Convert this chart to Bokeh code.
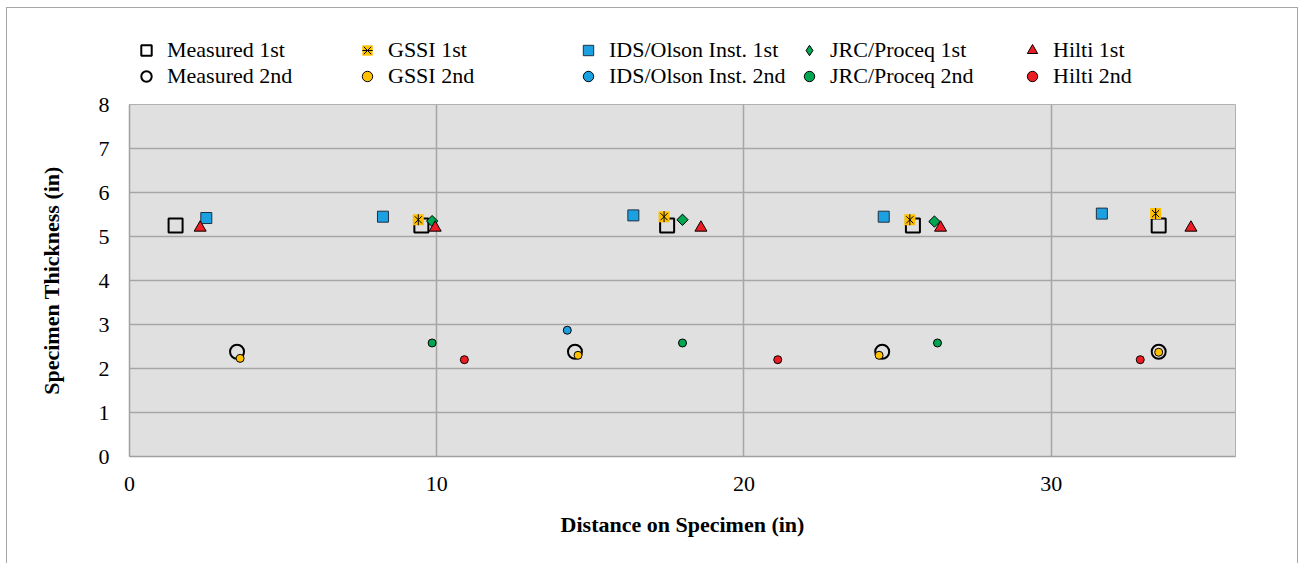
import numpy as np
from bokeh.plotting import figure
from bokeh.layouts import column
from bokeh.models import Legend, LegendItem, Range1d, FixedTicker
from bokeh.embed import file_html
from bokeh.resources import INLINE

# ---- data ----
meas1_x = [1.5, 9.5, 17.5, 25.5, 33.5]
meas1_y = [5.25, 5.25, 5.25, 5.25, 5.25]
meas2_x = [3.5, 14.5, 24.5, 33.5]
meas2_y = [2.38, 2.38, 2.38, 2.38]
gssi1_x = [9.4, 17.4, 25.4, 33.4]
gssi1_y = [5.38, 5.45, 5.38, 5.52]
gssi2_x = [3.6, 14.6, 24.4, 33.5]
gssi2_y = [2.23, 2.30, 2.30, 2.37]
ids1_x = [2.5, 8.25, 16.4, 24.55, 31.65]
ids1_y = [5.42, 5.45, 5.48, 5.45, 5.52]
ids2_x = [14.25]
ids2_y = [2.87]
jrc1_x = [9.85, 18.0, 26.2]
jrc1_y = [5.35, 5.38, 5.34]
jrc2_x = [9.85, 18.0, 26.3]
jrc2_y = [2.58, 2.58, 2.58]
hilti1_x = [2.3, 9.95, 18.6, 26.4, 34.55]
hilti1_y = [5.2, 5.2, 5.2, 5.2, 5.2]
hilti2_x = [10.9, 21.1, 32.9]
hilti2_y = [2.2, 2.2, 2.2]

x_ticks = [0, 10, 20, 30]
y_ticks = [0, 1, 2, 3, 4, 5, 6, 7, 8]

ORANGE = "#FFC000"
BLUE = "#1BA1E2"
GREEN = "#00A651"
RED = "#ED1C24"
FONT = "Liberation Serif"

# series: key -> (x, y, style)
series = {
    "m1": (meas1_x, meas1_y, dict(marker="square", size=14, fill_alpha=0, line_color="black", line_width=2)),
    "m2": (meas2_x, meas2_y, dict(marker="circle", size=14, fill_alpha=0, line_color="black", line_width=2)),
    "i1": (ids1_x, ids1_y, dict(marker="square", size=11, fill_color=BLUE, line_color="#203040", line_width=1)),
    "i2": (ids2_x, ids2_y, dict(marker="circle", size=8, fill_color=BLUE, line_color="black", line_width=1)),
    "g1a": (gssi1_x, gssi1_y, dict(marker="square", size=11, fill_color=ORANGE, line_color=None)),
    "g1b": (gssi1_x, gssi1_y, dict(marker="x", size=10, line_color="black", line_width=1)),
    "g1c": (gssi1_x, gssi1_y, dict(marker="dash", size=11, angle=np.pi / 2, line_color="black", line_width=1)),
    "g2": (gssi2_x, gssi2_y, dict(marker="circle", size=8, fill_color=ORANGE, line_color="black", line_width=1)),
    "j1": (jrc1_x, jrc1_y, dict(marker="square", size=8, angle=np.pi / 4, fill_color=GREEN, line_color="black", line_width=1)),
    "j2": (jrc2_x, jrc2_y, dict(marker="circle", size=8, fill_color=GREEN, line_color="black", line_width=1)),
    "h1": (hilti1_x, hilti1_y, dict(marker="triangle", size=12, fill_color=RED, line_color="black", line_width=1)),
    "h2": (hilti2_x, hilti2_y, dict(marker="circle", size=8, fill_color=RED, line_color="black", line_width=1)),
}

# ---- main plot ----
p = figure(width=1290, height=471, output_backend="svg", toolbar_location=None,
           x_range=Range1d(0, 36), y_range=Range1d(0, 8),
           min_border_left=122, min_border_right=62, min_border_top=12,
           min_border_bottom=107)
p.background_fill_color = "#E0E0E0"
p.border_fill_color = "white"
p.outline_line_color = "#B0B0B0"

for ax in (p.xaxis[0], p.yaxis[0]):
    ax.major_tick_in = 0
    ax.major_tick_out = 0
    ax.minor_tick_in = 0
    ax.minor_tick_out = 0
    ax.axis_line_color = "#A0A0A0"
    ax.axis_line_width = 1.5
    ax.major_label_text_font = FONT
    ax.major_label_text_font_size = "22px"
    ax.major_label_text_color = "black"
    ax.axis_label_text_font = FONT
    ax.axis_label_text_font_size = "22px"
    ax.axis_label_text_font_style = "bold"
    ax.axis_label_text_color = "black"

p.xaxis.ticker = FixedTicker(ticks=x_ticks)
p.yaxis.ticker = FixedTicker(ticks=y_ticks)
p.xaxis.axis_label = "Distance on Specimen (in)"
p.yaxis.axis_label = "Specimen Thickness (in)"
p.xaxis.major_label_standoff = 20
p.yaxis.major_label_standoff = 20
p.xaxis.axis_label_standoff = 18
p.yaxis.axis_label_standoff = 32

p.xgrid.ticker = FixedTicker(ticks=x_ticks)
p.ygrid.ticker = FixedTicker(ticks=y_ticks)
p.grid.grid_line_color = "#A6A6A6"
p.grid.grid_line_width = 1.5

for key in ["m1", "m2", "i1", "i2", "g1a", "g1b", "g1c", "g2", "j1", "j2", "h1", "h2"]:
    xs, ys, st = series[key]
    p.scatter(xs, ys, **st)

# ---- legend strip (five columns of two rows) ----
# Same series drawn here only to provide legend glyphs; all fall outside this
# strip's (0..1) ranges so none of the points show.
lg = figure(width=1290, height=84, output_backend="svg", toolbar_location=None,
            x_range=Range1d(0, 1), y_range=Range1d(0, 1),
            min_border=0, x_axis_type=None, y_axis_type=None)
lg.outline_line_color = None
lg.grid.visible = False
lg.background_fill_color = "white"
lg.border_fill_color = "white"

def legend_renderer(key):
    xs, ys, st = series[key]
    st = dict(st)
    if key == "j1":  # legend glyphs ignore angle: use a diamond marker instead
        st.pop("angle")
        st["marker"] = "diamond"
    return lg.scatter(xs, ys, **st)

columns = [
    [("Measured 1st", ["m1"]), ("Measured 2nd", ["m2"])],
    [("GSSI 1st", ["g1a", "g1b", "g1c"]), ("GSSI 2nd", ["g2"])],
    [("IDS/Olson Inst. 1st", ["i1"]), ("IDS/Olson Inst. 2nd", ["i2"])],
    [("JRC/Proceq 1st", ["j1"]), ("JRC/Proceq 2nd", ["j2"])],
    [("Hilti 1st", ["h1"]), ("Hilti 2nd", ["h2"])],
]
col_x = [4, 225, 446, 667, 890]
for cx, items in zip(col_x, columns):
    leg = Legend(items=[LegendItem(label=lab, renderers=[legend_renderer(k) for k in keys])
                        for lab, keys in items],
                 location=(cx, 3), orientation="vertical",
                 border_line_color=None, background_fill_alpha=0,
                 padding=0, margin=0, spacing=0,
                 glyph_width=26, glyph_height=26, label_height=26,
                 label_standoff=8,
                 label_text_font=FONT, label_text_font_size="22px",
                 label_text_color="black")
    lg.add_layout(leg, "center")

root = column(lg, p, spacing=0, margin=(8, 0, 0, 7))
root.styles = {"outline": "1px solid #A6A6A6"}

open("out.html", "w").write(file_html(root, INLINE))
